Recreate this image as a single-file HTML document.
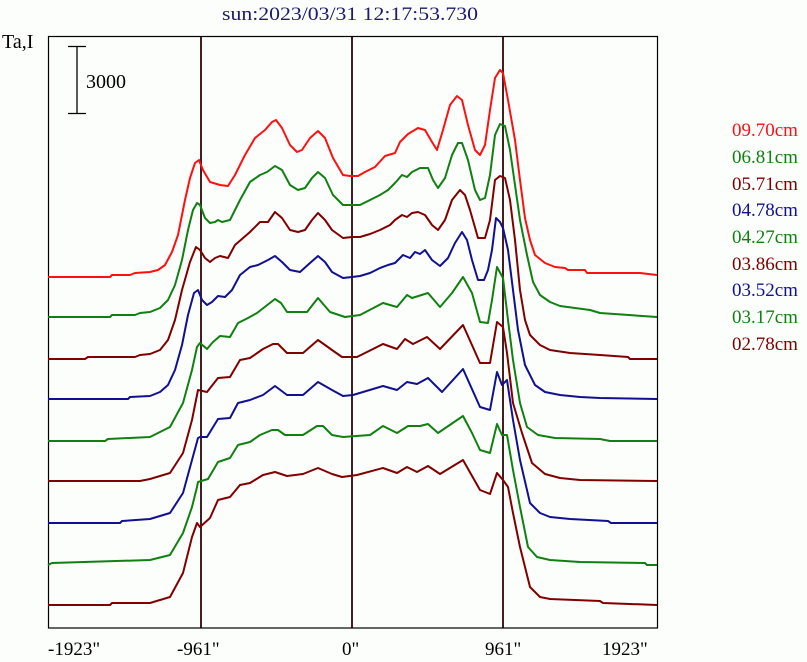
<!DOCTYPE html>
<html><head><meta charset="utf-8"><style>
html,body{margin:0;padding:0;background:#fcfefc;}
svg{display:block;}
text{font-family:"Liberation Serif",serif;}
</style></head><body>
<svg width="807" height="662" viewBox="0 0 807 662" xmlns="http://www.w3.org/2000/svg">
<rect width="807" height="662" fill="#fcfefc"/>
<text x="222" y="20" font-size="19" fill="#1a1a6e" textLength="256" lengthAdjust="spacingAndGlyphs">sun:2023/03/31 12:17:53.730</text>
<text x="2" y="48" font-size="20" fill="#000">Ta,I</text>
<g stroke="#000" stroke-width="1.3" fill="none">
<line x1="77" y1="46" x2="77" y2="114"/><line x1="68" y1="46.5" x2="86" y2="46.5"/><line x1="68" y1="113.5" x2="86" y2="113.5"/>
</g>
<text x="86" y="88" font-size="20" fill="#000">3000</text>
<g stroke="#402020" stroke-width="2">
<line x1="201" y1="36" x2="201" y2="628"/><line x1="352" y1="36" x2="352" y2="628"/><line x1="503" y1="36" x2="503" y2="628"/>
</g>
<rect x="48.5" y="36.5" width="609" height="591.5" fill="none" stroke="#000" stroke-width="1.2"/>
<g fill="none" stroke-width="2" stroke-linejoin="round">
<polyline stroke="#ff1010" points="48,277 110,277 112,275 130,275 135,273 150,272 158,270 165,265 172,252 178,235 185,200 190,178 195,163 199,160 203,170 210,182 220,185 228,186 235,175 245,155 255,138 265,130 272,122 276,120 282,128 290,145 297,152 302,150 310,138 318,131 325,138 333,158 343,175 350,176 358,176 365,172 375,167 385,156 395,153 400,142 408,134 418,128 425,130 432,142 437,150 443,130 450,105 457,96 462,100 468,125 475,150 480,155 485,145 490,110 495,78 500,70 503,73 508,100 515,140 520,180 525,218 530,240 535,255 545,263 555,267 565,268 568,270 585,270 587,273 640,273 657,275"/>
<polyline stroke="#108010" points="48,317 110,317 112,315 135,315 140,313 150,312 160,308 168,300 175,285 182,260 188,230 193,210 197,203 200,205 205,218 210,223 215,222 218,220 222,222 230,220 240,200 250,182 260,175 267,172 275,166 282,170 290,185 298,190 305,188 312,178 318,172 325,178 333,195 343,205 352,205 360,205 370,200 380,195 388,190 395,183 402,175 407,177 412,172 420,168 428,168 433,180 438,188 445,178 452,155 458,143 462,143 468,160 475,190 480,200 485,198 490,175 495,135 500,124 505,126 510,150 515,185 520,220 527,255 533,282 540,295 550,302 560,306 575,308 590,310 600,313 657,317"/>
<polyline stroke="#800000" points="48,359 85,359 88,357 135,357 140,355 150,354 160,350 168,340 175,320 182,290 190,262 196,247 200,250 205,258 210,262 215,258 220,256 228,258 235,245 250,232 260,222 268,222 275,212 282,218 290,230 298,232 305,230 312,220 318,213 325,220 332,230 343,238 352,237 360,237 370,234 380,230 390,225 395,220 402,215 407,217 412,213 418,212 425,215 432,225 438,230 445,220 452,200 460,190 465,195 470,210 478,238 485,238 490,220 495,180 500,176 505,178 510,200 515,240 520,290 525,320 530,335 540,345 550,350 570,353 600,355 628,357 630,359 657,359"/>
<polyline stroke="#101090" points="48,399 128,399 130,397 150,396 160,392 168,385 175,370 182,345 188,315 194,293 198,290 202,300 207,305 212,302 218,296 225,297 232,290 240,275 250,267 258,265 268,260 275,256 282,262 290,270 300,272 310,263 318,256 325,262 332,272 343,278 352,277 360,276 370,273 380,268 388,265 395,263 403,255 410,258 415,252 420,254 425,250 432,260 440,266 448,258 455,243 462,232 467,240 472,260 478,280 484,280 488,270 492,250 496,218 500,222 503,228 508,250 513,290 518,330 525,365 535,385 545,392 560,395 580,397 600,398 657,399"/>
<polyline stroke="#108010" points="48,441 105,441 108,439 150,437 170,427 183,403 192,370 197,347 200,343 207,349 213,342 220,336 230,337 238,323 248,318 257,313 266,306 275,299 281,303 287,312 307,312 318,298 330,312 345,317 360,315 383,303 397,307 407,295 412,298 428,293 440,307 452,293 463,277 472,293 480,322 488,323 492,300 497,267 503,278 508,320 513,360 520,403 527,427 538,435 555,438 600,439 610,441 657,441"/>
<polyline stroke="#800000" points="48,481 140,481 150,479 170,473 183,453 192,420 198,390 207,392 218,378 230,377 240,360 250,358 263,349 273,344 278,344 287,353 303,353 318,340 332,350 342,357 357,357 383,344 397,349 405,339 413,344 427,337 440,349 463,325 480,363 490,363 497,322 503,327 507,353 513,403 522,433 532,463 545,474 560,478 580,480 657,481"/>
<polyline stroke="#101090" points="48,523 120,523 122,521 150,519 170,513 183,493 192,460 198,438 200,437 207,437 218,419 230,418 238,403 250,400 263,395 275,386 287,395 303,395 318,382 332,390 343,396 353,395 383,386 397,390 407,382 417,384 428,378 442,392 463,369 480,407 490,410 497,372 502,385 507,380 513,420 520,460 530,503 540,513 550,517 570,519 608,521 611,523 657,523"/>
<polyline stroke="#108010" points="48,565 52,563 150,560 170,555 183,533 192,507 197,487 198,482 208,479 218,462 230,458 238,445 250,442 260,435 272,430 278,430 285,435 303,435 317,426 323,426 332,435 343,437 370,435 383,426 397,433 408,426 420,426 428,424 438,433 463,416 472,433 480,450 490,453 497,424 502,435 507,435 513,470 520,507 528,547 537,557 550,560 580,562 645,563 647,565 657,565"/>
<polyline stroke="#800000" points="48,605 110,605 112,603 150,603 170,597 183,573 192,537 197,523 200,527 210,518 218,500 230,497 240,485 250,483 263,475 275,472 287,476 303,474 318,468 332,474 342,477 357,475 383,468 397,473 407,467 417,472 428,466 440,474 463,460 480,490 490,494 497,473 503,480 508,487 513,513 520,547 530,587 540,597 550,599 575,600 600,601 603,603 657,605"/>
</g>
<g font-size="19" fill="#000">
<text x="48" y="655">-1923"</text>
<text x="177" y="655">-961"</text>
<text x="342" y="655">0"</text>
<text x="485" y="655">961"</text>
<text x="602" y="655">1923"</text>
</g>
<g font-size="19">
<text x="732" y="136" fill="#ff1010">09.70cm</text>
<text x="732" y="163" fill="#108010">06.81cm</text>
<text x="732" y="190" fill="#800000">05.71cm</text>
<text x="732" y="216" fill="#101090">04.78cm</text>
<text x="732" y="243" fill="#108010">04.27cm</text>
<text x="732" y="270" fill="#800000">03.86cm</text>
<text x="732" y="296" fill="#101090">03.52cm</text>
<text x="732" y="323" fill="#108010">03.17cm</text>
<text x="732" y="350" fill="#800000">02.78cm</text>
</g>
</svg>
</body></html>
